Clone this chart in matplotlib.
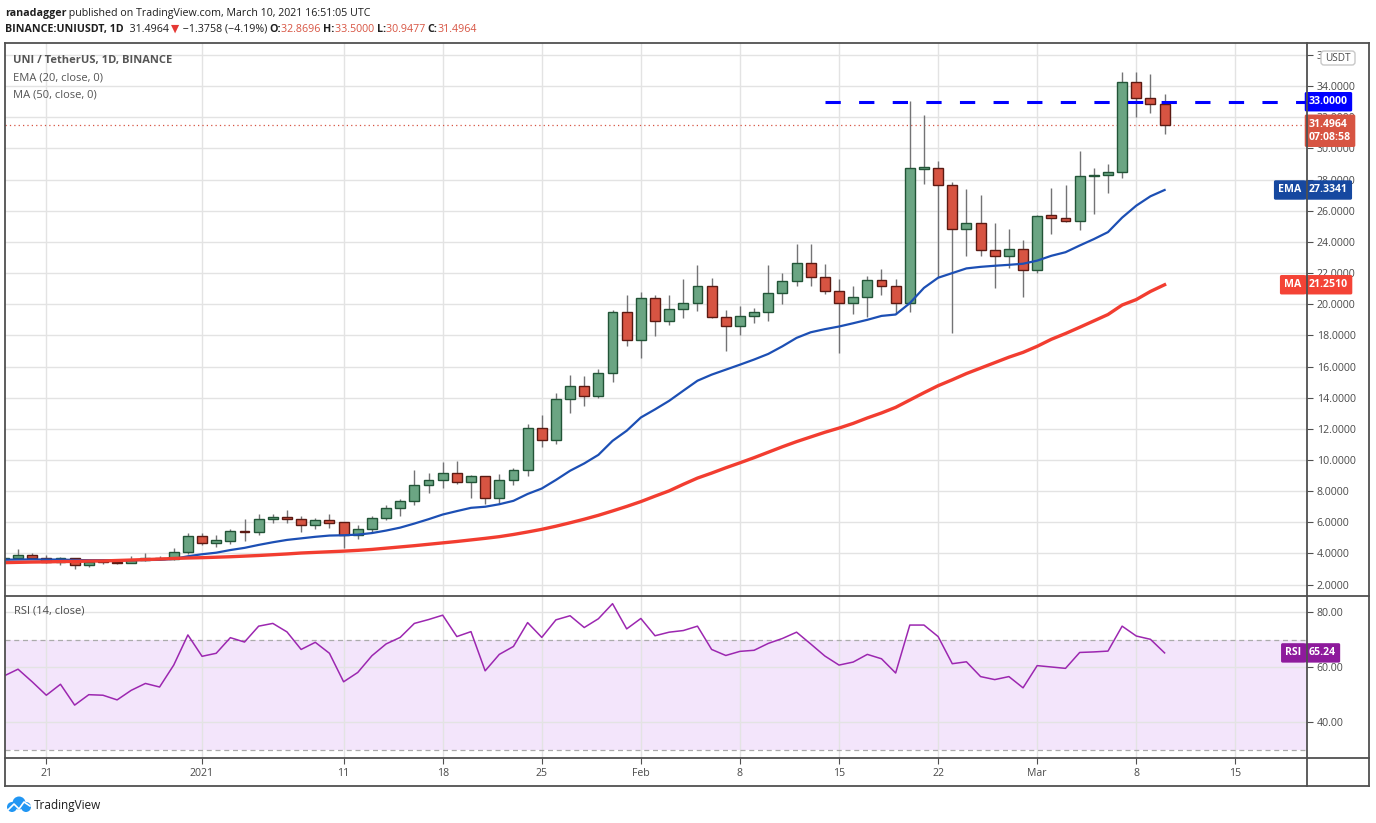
import numpy as np
import pandas as pd
import matplotlib
matplotlib.use("Agg")
import matplotlib.pyplot as plt
from matplotlib.transforms import blended_transform_factory, Affine2D
from matplotlib.patches import Circle, FancyBboxPatch

plt.rcParams["font.family"] = ["Open Sans", "DejaVu Sans"]

# daily candles, UNI/USDT, starting 2020-12-18
START = "2020-12-18"
opens = [3.62, 3.72, 3.92, 3.72, 3.46, 3.72, 3.27, 3.52, 3.48, 3.40, 3.59, 3.72, 3.66, 4.11,
         5.14, 4.66, 4.82, 5.46, 5.40, 6.24, 6.37, 6.24, 5.85, 6.18, 6.00, 5.20, 5.59, 6.30,
         6.95, 7.34, 8.37, 8.69, 9.14, 8.56, 8.95, 7.59, 8.69, 9.34, 12.05, 11.27, 13.92, 14.76,
         14.08, 15.59, 19.53, 17.72, 20.43, 18.95, 19.72, 20.11, 21.14, 19.20, 18.63, 19.27,
         19.47, 20.69, 21.46, 22.63, 21.76, 20.86, 20.09, 20.48, 21.57, 21.18, 20.09, 28.70,
         28.77, 27.68, 24.85, 25.23, 23.50, 23.12, 23.56, 22.21, 25.75, 25.56, 25.36, 28.23,
         28.32, 28.52, 34.24, 33.21, 32.8696]
highs = [3.78, 4.28, 4.00, 3.92, 3.75, 3.74, 3.50, 3.65, 3.65, 3.85, 4.00, 3.85, 4.38, 5.29,
         5.29, 5.16, 5.60, 6.19, 6.55, 6.55, 6.82, 6.40, 6.30, 6.55, 6.05, 5.80, 6.40, 7.10,
         7.50, 9.34, 9.16, 9.87, 9.92, 9.05, 9.00, 9.12, 9.50, 12.30, 12.88, 14.32, 15.48, 15.40,
         15.83, 19.60, 20.60, 20.77, 20.60, 20.60, 21.59, 22.50, 21.68, 19.60, 19.90, 19.75,
         22.50, 21.98, 23.84, 23.84, 22.60, 21.59, 21.20, 21.83, 22.28, 21.60, 33.04, 32.14,
         29.18, 27.83, 27.38, 26.99, 25.19, 24.85, 24.14, 25.75, 27.44, 27.63, 29.82, 28.77,
         29.03, 34.90, 34.90, 34.77, 33.50]
lows = [3.55, 3.65, 3.65, 3.38, 3.27, 2.99, 3.13, 3.34, 3.33, 3.36, 3.50, 3.55, 3.58, 3.98,
        4.53, 4.39, 4.62, 4.80, 5.18, 5.95, 5.95, 5.37, 5.60, 5.65, 4.34, 4.90, 5.35, 6.15,
        6.40, 7.13, 7.90, 8.20, 8.43, 7.57, 7.20, 7.20, 8.40, 9.00, 10.84, 11.00, 12.99, 13.44,
        14.00, 15.03, 17.35, 16.58, 17.94, 18.66, 19.10, 19.55, 19.10, 17.00, 18.00, 18.80,
        18.90, 20.00, 21.20, 21.20, 20.65, 16.85, 19.38, 19.17, 20.58, 19.38, 19.49, 27.72,
        21.74, 18.16, 23.09, 23.09, 21.03, 22.32, 20.45, 22.00, 24.53, 25.27, 24.78, 25.81,
        27.14, 28.10, 32.03, 32.28, 30.9477]
closes = [3.72, 3.92, 3.72, 3.46, 3.72, 3.27, 3.46, 3.46, 3.40, 3.59, 3.72, 3.62, 4.11, 5.14,
          4.66, 4.84, 5.46, 5.40, 6.24, 6.37, 6.24, 5.85, 6.18, 5.98, 5.20, 5.59, 6.30, 6.95,
          7.34, 8.37, 8.69, 9.14, 8.58, 8.95, 7.59, 8.69, 9.34, 12.05, 11.27, 13.92, 14.76, 14.08,
          15.59, 19.53, 17.72, 20.43, 18.95, 19.72, 20.11, 21.14, 19.20, 18.63, 19.27, 19.53,
          20.69, 21.46, 22.63, 21.76, 20.86, 20.09, 20.48, 21.57, 21.18, 20.09, 28.77, 28.80,
          27.68, 24.85, 25.23, 23.50, 23.12, 23.56, 22.21, 25.69, 25.56, 25.36, 28.26, 28.28,
          28.52, 34.24, 33.21, 32.87, 31.4964]

ema20 = [3.60, 3.61, 3.62, 3.61, 3.61, 3.58, 3.57, 3.57, 3.56, 3.57, 3.58, 3.59, 3.65, 3.82,
         3.95, 4.05, 4.22, 4.36, 4.55, 4.72, 4.87, 4.97, 5.07, 5.15, 5.17, 5.21, 5.31, 5.47,
         5.66, 5.92, 6.20, 6.50, 6.72, 6.93, 7.00, 7.16, 7.38, 7.82, 8.17, 8.72, 9.31, 9.78,
         10.33, 11.23, 11.88, 12.73, 13.25, 13.80, 14.45, 15.09, 15.48, 15.80, 16.12, 16.45,
         16.81, 17.30, 17.84, 18.20, 18.40, 18.57, 18.78, 19.00, 19.25, 19.34, 20.07, 21.05,
         21.70, 22.00, 22.30, 22.40, 22.47, 22.53, 22.60, 22.80, 23.11, 23.34, 23.77, 24.18,
         24.63, 25.56, 26.33, 26.93, 27.3341]
ma50 = [3.41, 3.43, 3.45, 3.46, 3.48, 3.49, 3.51, 3.52, 3.55, 3.58, 3.61, 3.64, 3.68, 3.71,
        3.73, 3.76, 3.79, 3.83, 3.87, 3.92, 3.97, 4.03, 4.07, 4.11, 4.15, 4.20, 4.26, 4.34,
        4.42, 4.50, 4.59, 4.68, 4.77, 4.87, 4.97, 5.08, 5.22, 5.38, 5.55, 5.75, 5.97, 6.20,
        6.45, 6.73, 7.02, 7.33, 7.68, 8.02, 8.44, 8.84, 9.16, 9.50, 9.82, 10.15, 10.50, 10.85,
        11.18, 11.48, 11.78, 12.05, 12.35, 12.70, 13.02, 13.38, 13.85, 14.32, 14.77, 15.15,
        15.55, 15.90, 16.25, 16.60, 16.91, 17.30, 17.75, 18.12, 18.52, 18.93, 19.34, 19.95,
        20.30, 20.82, 21.2510]
rsi14 = [56.8, 59.3, 54.7, 49.8, 53.8, 46.2, 50.0, 49.8, 48.1, 51.6, 54.1, 52.8, 60.8, 71.8,
         64.0, 65.1, 70.8, 69.2, 75.0, 76.0, 72.9, 66.5, 69.1, 65.1, 54.7, 58.1, 64.2, 68.5,
         70.9, 76.0, 77.4, 79.0, 71.2, 73.0, 58.7, 64.7, 67.6, 76.3, 70.9, 77.3, 78.8, 74.5,
         77.7, 83.2, 74.0, 77.8, 71.5, 72.8, 73.4, 75.0, 66.5, 64.3, 65.8, 66.2, 68.7, 70.5,
         72.8, 68.5, 64.1, 60.8, 61.9, 64.7, 63.1, 57.9, 75.4, 75.4, 71.2, 61.3, 62.0, 56.6,
         55.5, 56.6, 52.5, 60.6, 60.1, 59.6, 65.4, 65.6, 65.9, 75.0, 71.4, 70.2, 65.24]

tick_dates = ["2020-12-21", "2021-01-01", "2021-01-11", "2021-01-18", "2021-01-25",
              "2021-02-01", "2021-02-08", "2021-02-15", "2021-02-22", "2021-03-01",
              "2021-03-08", "2021-03-15"]
tick_labels = ["21", "2021", "11", "18", "25", "Feb", "8", "15", "22", "Mar", "8", "15"]
price_ticks = [2, 4, 6, 8, 10, 12, 14, 16, 18, 20, 22, 24, 26, 28, 30, 32, 34, 36]
rsi_ticks = [40, 60, 80]

resistance = 33.0
resistance_from = "2021-02-14"

W, H = 1376, 823
GREEN, GREEN_EDGE = "#6ba583", "#225437"
RED, RED_EDGE = "#d75442", "#5b1a13"
GRID = "#e3e3e3"
FRAME = "#505050"
LABEL = "#4a4a4a"
FS = 7.6
PAD = "round,pad=0.4,rounding_size=0.15"


def box(left, top, right, bottom):
    return [left / W, 1 - bottom / H, (right - left) / W, (bottom - top) / H]


def day_index(d):
    return (pd.Timestamp(d) - pd.Timestamp(START)).days


o = np.array(opens)
h = np.array(highs)
l = np.array(lows)
c = np.array(closes)
x = np.arange(len(c))
xmin, xmax = 0.08, 92.06

fig = plt.figure(figsize=(W / 100, H / 100), dpi=100)
ax = fig.add_axes(box(5, 43, 1307, 596))
ax_rsi = fig.add_axes(box(5, 596, 1307, 758), sharex=ax)

# candles
up = c >= o
ax.vlines(x, l, h, color="#737375", lw=1.0, zorder=2)
for mask, fc, ec in [(up, GREEN, GREEN_EDGE), (~up, RED, RED_EDGE)]:
    ax.bar(x[mask], np.abs(c - o)[mask], bottom=np.minimum(o, c)[mask], width=0.7,
           color=fc, edgecolor=ec, linewidth=1.0, zorder=3)

ax.plot(x, ema20, color="#1c4fb4", lw=1.6, zorder=4)
ax.plot(x, ma50, color="#f23d30", lw=2.4, zorder=4)

ax.plot([day_index(resistance_from), xmax], [resistance, resistance], color="#0000ff",
        lw=2.2, dashes=(5, 6), zorder=5, dash_capstyle="butt")
ax.axhline(c[-1], color=RED, lw=0.9, ls=(0, (1, 2.5)), zorder=1)

ax.set_xlim(xmin, xmax)
ax.set_ylim(1.27, 36.77)
ax.set_yticks(price_ticks)
ax.set_yticklabels([f"{v:.4f}" for v in price_ticks])
ax.yaxis.tick_right()
ax.tick_params(axis="y", length=4, color=FRAME, labelcolor=LABEL, labelsize=FS, pad=3)
ax.tick_params(axis="x", length=0, labelbottom=False)
ax.set_xticks([day_index(d) for d in tick_dates])
ax.grid(color=GRID, lw=1.0)
ax.set_axisbelow(True)

# RSI panel
ax_rsi.axhspan(30, 70, color="#f3e5fb", zorder=0, lw=0)
for lvl in (30, 70):
    ax_rsi.axhline(lvl, color="#ababab", lw=0.9, dashes=(4, 3), zorder=1)
ax_rsi.plot(x, rsi14, color="#9c27b0", lw=1.1, zorder=3)
ax_rsi.set_ylim(26.9, 86.0)
ax_rsi.set_yticks(rsi_ticks)
ax_rsi.set_yticklabels([f"{v:.2f}" for v in rsi_ticks])
ax_rsi.yaxis.tick_right()
ax_rsi.tick_params(axis="y", length=4, color=FRAME, labelcolor=LABEL, labelsize=FS, pad=3)
ax_rsi.set_xticks([day_index(d) for d in tick_dates])
ax_rsi.set_xticklabels(tick_labels)
ax_rsi.tick_params(axis="x", length=4, color=FRAME, labelcolor=LABEL, labelsize=FS, pad=3)
ax_rsi.grid(color=GRID, lw=1.0)
ax_rsi.set_axisbelow(True)
ax_rsi.text(0.007, 80.5, "RSI (14, close)",
            transform=blended_transform_factory(ax_rsi.transAxes, ax_rsi.transData),
            color=LABEL, fontsize=FS + 0.4, va="center")

for a in (ax, ax_rsi):
    for s in a.spines.values():
        s.set_visible(False)
    a.set_facecolor("none")


def badge(a, value, text, color, left_text=None):
    tr = blended_transform_factory(a.transAxes, a.transData)
    a.text(1.0015, value, text, transform=tr, ha="left", va="center", color="white",
           fontsize=FS, fontweight="bold", clip_on=False, zorder=20,
           bbox=dict(boxstyle=PAD, fc=color, ec="none"))
    if left_text:
        a.text(0.998, value, left_text, transform=tr + Affine2D().translate(-3, 0),
               ha="right", va="center", color="white", fontsize=FS, fontweight="bold",
               clip_on=False, zorder=20, bbox=dict(boxstyle=PAD, fc=color, ec="none"))


badge(ax, resistance, "33.0000", "#0000ff")
badge(ax, ema20[-1], f"{ema20[-1]:.4f}", "#1648a0", "EMA")
badge(ax, ma50[-1], f"{ma50[-1]:.4f}", "#f44336", "MA")
badge(ax_rsi, rsi14[-1], f"{rsi14[-1]:.2f}", "#8e1a9c", "RSI")
tr_main = blended_transform_factory(ax.transAxes, ax.transData)
ax.annotate(f"{c[-1]:.4f}\n07:08:58", xy=(1.0015, c[-1]), xycoords=tr_main,
            xytext=(0, 4.6), textcoords="offset points", ha="left", va="top",
            color="white", fontsize=FS, fontweight="bold", linespacing=1.25,
            annotation_clip=False, zorder=20, bbox=dict(boxstyle=PAD, fc=RED, ec="none"))

# overlay in pixel coordinates: frame, header, legend, logo
ov = fig.add_axes([0, 0, 1, 1], zorder=30)
ov.set_xlim(0, W)
ov.set_ylim(H, 0)
ov.axis("off")
ov.patch.set_alpha(0)
frame_lines = [((5, 1369), (43, 43)), ((5, 1369), (786, 786)), ((5, 5), (43, 786)),
               ((1369, 1369), (43, 786)), ((1307, 1307), (43, 786)),
               ((5, 1369), (596, 596)), ((5, 1369), (758, 758))]
for xs, ys in frame_lines:
    ov.plot(xs, ys, color=FRAME, lw=1.3, solid_capstyle="projecting")

ov.add_patch(FancyBboxPatch((1321, 51), 34, 14, boxstyle="round,pad=0,rounding_size=3",
                            fc="white", ec="#c8c8c8", lw=1.0))
ov.text(1338, 58, "USDT", ha="center", va="center", fontsize=FS - 0.4, color=LABEL)

renderer = fig.canvas.get_renderer()


def text_runs(x0, y0, runs, size):
    for s, color, weight in runs:
        t = ov.text(x0, y0, s, color=color, fontsize=size, fontweight=weight,
                    ha="left", va="center")
        x0 += t.get_window_extent(renderer).width


DARK = "#1e1e1e"
text_runs(5, 13, [("ranadagger", DARK, "bold"),
                  (" published on TradingView.com, March 10, 2021 16:51:05 UTC", DARK, "normal")], 7.7)
text_runs(5, 29, [("BINANCE:UNIUSDT, 1D", DARK, "bold"), ("  31.4964 ", DARK, "normal"),
                  ("▼", "#e53935", "normal"), (" −1.3758 (−4.19%) ", DARK, "normal"),
                  ("O:", DARK, "bold"), ("32.8696 ", RED, "normal"),
                  ("H:", DARK, "bold"), ("33.5000 ", RED, "normal"),
                  ("L:", DARK, "bold"), ("30.9477 ", RED, "normal"),
                  ("C:", DARK, "bold"), ("31.4964", RED, "normal")], 7.7)
ov.text(13, 60, "UNI / TetherUS, 1D, BINANCE", color="#555555", fontsize=FS + 0.4,
        fontweight="bold", va="center")
ov.text(13, 78, "EMA (20, close, 0)", color="#555555", fontsize=FS + 0.4, va="center")
ov.text(13, 95, "MA (50, close, 0)", color="#555555", fontsize=FS + 0.4, va="center")

# TradingView logo
for cx, cy, r in [(12, 807, 5), (19, 803, 6.5), (26, 807, 5)]:
    ov.add_patch(Circle((cx, cy), r, color="#2196f3", lw=0))
ov.plot([8, 14, 19, 24, 30], [810, 804, 809, 802, 806], color="white", lw=1.2)
ov.text(34, 805, "TradingView", color=DARK, fontsize=8.5, va="center")

fig.savefig("out.png", dpi=100)
